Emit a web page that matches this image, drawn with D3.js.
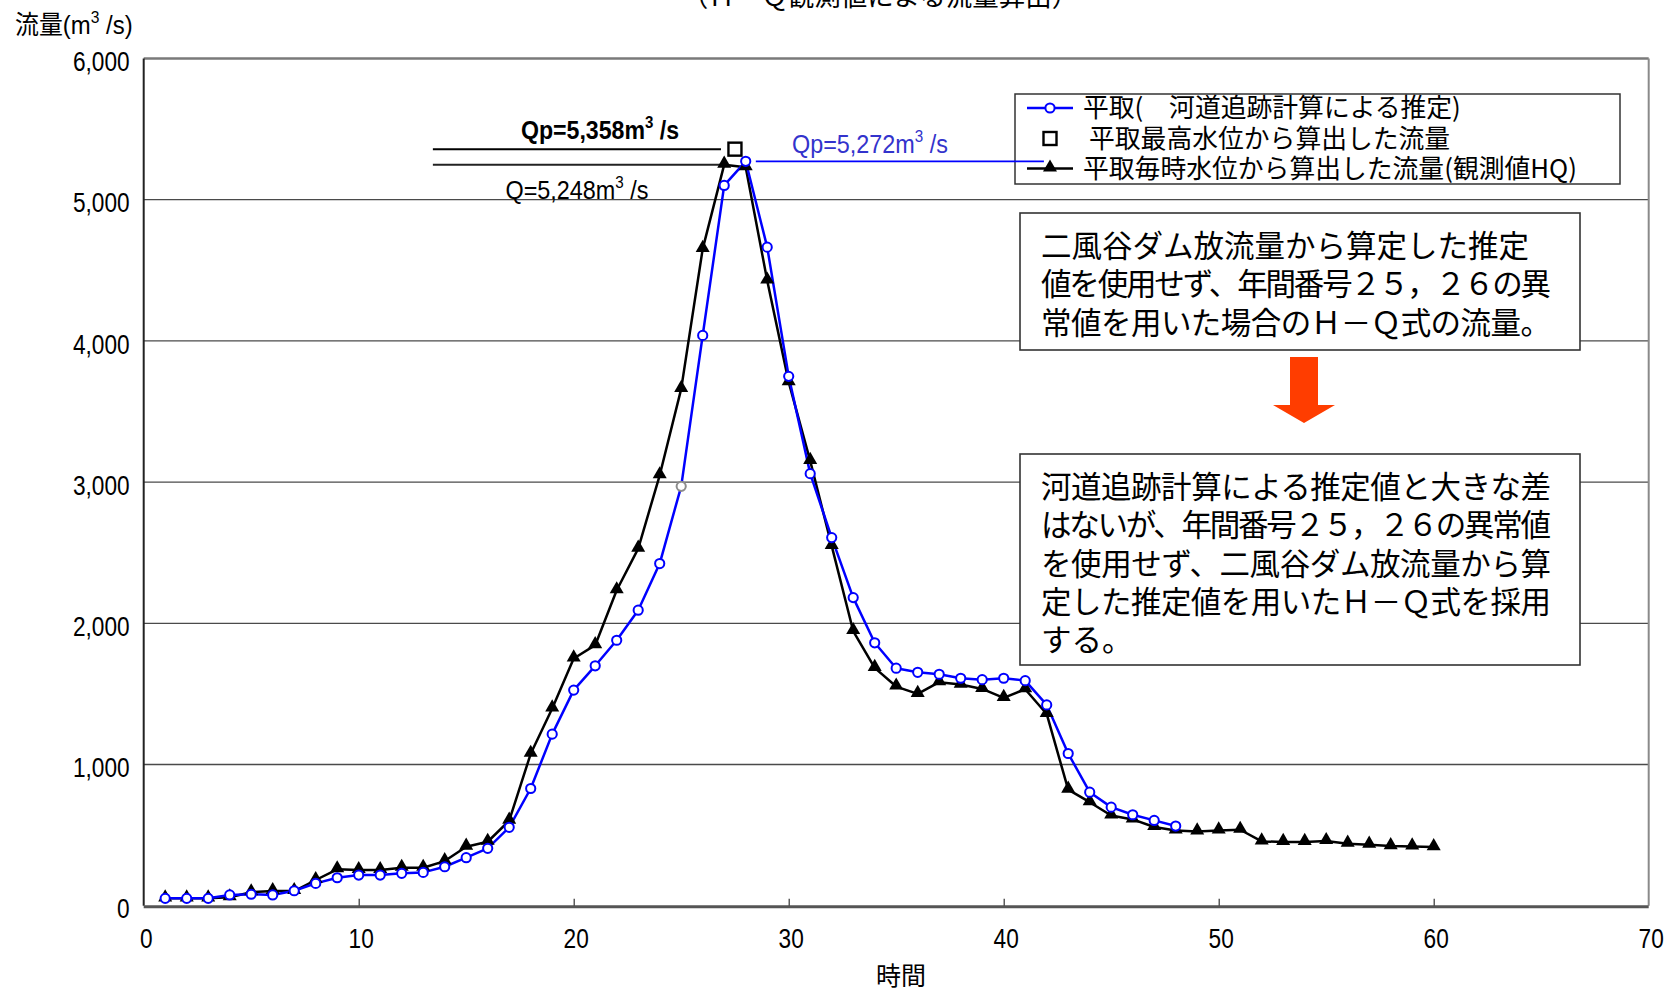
<!DOCTYPE html>
<html>
<head>
<meta charset="utf-8">
<script src="https://cdn.jsdelivr.net/npm/d3@7"></script>
<style>
  body { margin: 0; background: #fff; }
  svg { display: block; }
  .num { font-family: "Liberation Sans", Arial, sans-serif; }
  .jp { font-family: "Noto Sans CJK JP", sans-serif; }
</style>
</head>
<body>
<svg id="chart" width="1674" height="991"></svg>
<script>
// Hourly discharge at 平取 (m3/s)
const hours = d3.range(1, 61);
const routedFlow = [
  52, 52, 52, 76, 81, 76, 106, 158, 198, 217,
  217, 229, 236, 276, 340, 406, 555, 830, 1215, 1527,
  1699, 1880, 2093, 2423, 2970, 4039, 5101, 5272, 4664, 3749,
  3060, 2607, 2182, 1862, 1682, 1653, 1639, 1611, 1601, 1611,
  1594, 1422, 1078, 804, 698, 644, 604, 564
];
const observedFlow = [
  52, 52, 52, 60, 95, 104, 104, 182, 258, 253,
  253, 269, 269, 316, 418, 453, 602, 1076, 1397, 1751,
  1845, 2234, 2529, 3048, 3660, 4652, 5248, 5230, 4428, 3708,
  3150, 2548, 1945, 1684, 1552, 1500, 1583, 1566, 1535, 1472,
  1533, 1358, 822, 733, 639, 611, 557, 533, 526, 533,
  538, 455, 452, 452, 458, 439, 432, 422, 420, 415
];
const dimmedHours = [25];
const peakStageHour = 27.5;
const peakStageFlow = 5358;
const routedPeak = 5272;
const observedPeak = 5248;
const xTicks = [0, 10, 20, 30, 40, 50, 60, 70];
const yTicks = [0, 1000, 2000, 3000, 4000, 5000, 6000];

const titleText = "（Ｈ・Ｑ観測値による流量算出）";
const yTitle = "流量(m";
const xTitle = "時間";
const legendLabels = [
  "平取(　河道追跡計算による推定)",
  "平取最高水位から算出した流量",
  "平取毎時水位から算出した流量(観測値HQ)"
];
const noteLines1 = [
  "二風谷ダム放流量から算定した推定",
  "値を使用せず、年間番号２５，２６の異",
  "常値を用いた場合のＨ－Ｑ式の流量。"
];
const noteLines2 = [
  "河道追跡計算による推定値と大きな差",
  "はないが、年間番号２５，２６の異常値",
  "を使用せず、二風谷ダム放流量から算",
  "定した推定値を用いたＨ－Ｑ式を採用",
  "する。"
];

const BLUE = "#0000ff";
const svg = d3.select("#chart");

const x = d3.scaleLinear().domain([0, 70]).range([143.7, 1648.7]);
const y = d3.scaleLinear().domain([0, 6000]).range([905.7, 58.5]);

// narrow the Latin lettering horizontally about its anchor point
function condense(sel, k) {
  sel.each(function () {
    const t = d3.select(this);
    const ax = +t.attr("x") || 0, ay = +t.attr("y") || 0;
    t.attr("transform", `translate(${ax},${ay}) scale(${k},1) translate(${-ax},${-ay})`);
  });
}

// title (runs off the top edge)
svg.append("text").attr("class", "jp")
  .attr("x", 880).attr("y", 6).attr("text-anchor", "middle")
  .attr("font-size", 26.5).attr("fill", "#000").text(titleText);

// horizontal gridlines
svg.append("g").selectAll("line")
  .data(yTicks.filter(v => v > 0 && v < 6000))
  .join("line")
  .attr("x1", x(0)).attr("x2", x(70))
  .attr("y1", d => y(d)).attr("y2", d => y(d))
  .attr("stroke", "#4a4a4a").attr("stroke-width", 1.3);

// plot frame
svg.append("line").attr("x1", x(0)).attr("x2", x(70))
  .attr("y1", y(6000)).attr("y2", y(6000))
  .attr("stroke", "#7a7a7a").attr("stroke-width", 2.5);
svg.append("line").attr("x1", x(70)).attr("x2", x(70))
  .attr("y1", y(6000)).attr("y2", y(0))
  .attr("stroke", "#8a8a8a").attr("stroke-width", 2);
svg.append("line").attr("x1", x(0)).attr("x2", x(0))
  .attr("y1", y(6000)).attr("y2", y(0))
  .attr("stroke", "#222").attr("stroke-width", 2);
svg.append("line").attr("x1", x(0)).attr("x2", x(70))
  .attr("y1", y(0) + 1).attr("y2", y(0) + 1)
  .attr("stroke", "#555").attr("stroke-width", 3);

// inner ticks on the time axis
svg.append("g").attr("transform", `translate(0,${y(0)})`)
  .call(d3.axisBottom(x).tickValues(xTicks.slice(1, -1)).tickSize(-7).tickFormat(""))
  .call(g => g.select(".domain").remove())
  .call(g => g.selectAll("line").attr("stroke", "#333").attr("stroke-width", 1.2));

// axis labels
const yAxis = svg.append("g").attr("class", "num")
  .attr("transform", `translate(${x(0)},0)`)
  .call(d3.axisLeft(y).tickValues(yTicks).tickSize(0).tickPadding(14).tickFormat(d3.format(",")));
yAxis.select(".domain").remove();
yAxis.selectAll("text").attr("font-size", 27).attr("fill", "#000")
  .attr("font-family", null).attr("dy", "0.45em").call(condense, 0.84);

const xAxis = svg.append("g").attr("class", "num")
  .attr("transform", `translate(0,${y(0)})`)
  .call(d3.axisBottom(x).tickValues(xTicks).tickSize(0).tickPadding(23).tickFormat(d3.format("d")));
xAxis.select(".domain").remove();
xAxis.selectAll("text").attr("font-size", 27).attr("fill", "#000")
  .attr("font-family", null).attr("x", 2).call(condense, 0.84);

svg.append("text").attr("class", "jp").attr("x", 901).attr("y", 985)
  .attr("text-anchor", "middle").attr("font-size", 25).text(xTitle);

const yt = svg.append("text").attr("x", 15).attr("y", 34).attr("font-size", 26)
  .attr("font-family", "'Liberation Sans','Noto Sans CJK JP',sans-serif");
yt.append("tspan").text(yTitle);
yt.append("tspan").attr("dy", -11).attr("font-size", 17).text("3");
yt.append("tspan").attr("dy", 11).text(" /s)");
yt.call(condense, 0.92);

// peak reference lines
const refStart = 13.45;
svg.append("line").attr("x1", x(refStart)).attr("x2", x(26.85))
  .attr("y1", y(peakStageFlow)).attr("y2", y(peakStageFlow))
  .attr("stroke", "#000").attr("stroke-width", 2);
svg.append("line").attr("x1", x(refStart)).attr("x2", x(26.85))
  .attr("y1", y(observedPeak)).attr("y2", y(observedPeak))
  .attr("stroke", "#222").attr("stroke-width", 2);

// series lines
const line = d3.line().x(d => x(d[0])).y(d => y(d[1]));
const routedPts = routedFlow.map((v, i) => [hours[i], v]);
const observedPts = observedFlow.map((v, i) => [hours[i], v]);

svg.append("path").datum(observedPts).attr("d", line)
  .attr("fill", "none").attr("stroke", "#000").attr("stroke-width", 2.5)
  .attr("stroke-linejoin", "round");
svg.append("path").datum(routedPts).attr("d", line)
  .attr("fill", "none").attr("stroke", BLUE).attr("stroke-width", 2.5)
  .attr("stroke-linejoin", "round");

const tri = d3.symbol().type(d3.symbolTriangle).size(85);
svg.append("g").selectAll("path").data(observedPts).join("path")
  .attr("d", tri).attr("transform", d => `translate(${x(d[0])},${y(d[1]) - 1})`)
  .attr("fill", "#000");

svg.append("g").selectAll("circle").data(routedPts).join("circle")
  .attr("cx", d => x(d[0])).attr("cy", d => y(d[1])).attr("r", 4.6)
  .attr("fill", "#fff")
  .attr("stroke", d => dimmedHours.includes(d[0]) ? "#8c8c8c" : BLUE)
  .attr("stroke-width", 2);

// peak from the highest stage
svg.append("rect")
  .attr("x", x(peakStageHour) - 6.5).attr("y", y(peakStageFlow) - 6.5)
  .attr("width", 13).attr("height", 13)
  .attr("fill", "#fff").attr("stroke", "#000").attr("stroke-width", 2.4);

// peak labels
function supLabel(xp, yp, pre, opts) {
  const t = svg.append("text").attr("x", xp).attr("y", yp)
    .attr("class", "num").attr("font-size", opts.size)
    .attr("font-weight", opts.weight || "normal")
    .attr("fill", opts.color || "#000").attr("text-anchor", "middle");
  t.append("tspan").text(pre);
  t.append("tspan").attr("dy", -11).attr("font-size", opts.size * 0.65).text("3");
  t.append("tspan").attr("dy", 11).text(" /s");
  t.call(condense, opts.k);
}
supLabel(600, 139, "Qp=" + d3.format(",")(peakStageFlow) + "m", { size: 26, weight: "bold", k: 0.89 });
supLabel(577, 199, "Q=" + d3.format(",")(observedPeak) + "m", { size: 26, k: 0.9 });

// legend
const lg = svg.append("g");
lg.append("rect").attr("x", 1015).attr("y", 94).attr("width", 605).attr("height", 90)
  .attr("fill", "#fff").attr("stroke", "#333").attr("stroke-width", 1.5);
const rowY = [108, 138.5, 168.5];
lg.append("line").attr("x1", 1027).attr("x2", 1073).attr("y1", rowY[0]).attr("y2", rowY[0])
  .attr("stroke", BLUE).attr("stroke-width", 2.5);
lg.append("circle").attr("cx", 1050).attr("cy", rowY[0]).attr("r", 4.6)
  .attr("fill", "#fff").attr("stroke", BLUE).attr("stroke-width", 2);
lg.append("rect").attr("x", 1050 - 6.5).attr("y", rowY[1] - 6.5).attr("width", 13).attr("height", 13)
  .attr("fill", "#fff").attr("stroke", "#000").attr("stroke-width", 2.4);
lg.append("line").attr("x1", 1027).attr("x2", 1073).attr("y1", rowY[2]).attr("y2", rowY[2])
  .attr("stroke", "#000").attr("stroke-width", 2.5);
lg.append("path").attr("d", tri).attr("transform", `translate(1050,${rowY[2] - 1})`).attr("fill", "#000");
lg.selectAll("text.lbl").data(legendLabels).join("text").attr("class", "lbl jp")
  .attr("x", (d, i) => i === 1 ? 1089 : 1083).attr("y", (d, i) => rowY[i] + 9)
  .attr("font-size", 25.8).attr("fill", "#000").text(d => d);

// routed peak reference line and label
svg.append("line").attr("x1", x(28.47)).attr("x2", x(41.87))
  .attr("y1", y(routedPeak)).attr("y2", y(routedPeak))
  .attr("stroke", BLUE).attr("stroke-width", 1.8);
supLabel(870, 153, "Qp=" + d3.format(",")(routedPeak) + "m", { size: 26, color: "#3333cc", k: 0.9 });

// note boxes; long lines are tightened to stay inside the frame
const noteMaxWidth = 510;
function noteBox(bx, by, bw, bh, lines) {
  const g = svg.append("g");
  g.append("rect").attr("x", bx).attr("y", by).attr("width", bw).attr("height", bh)
    .attr("fill", "#fff").attr("stroke", "#333").attr("stroke-width", 1.6);
  g.selectAll("text").data(lines).join("text").attr("class", "jp")
    .attr("x", bx + 21).attr("y", (d, i) => by + 44 + i * 38.3)
    .attr("font-size", 30.5).attr("fill", "#000").text(d => d)
    .each(function () {
      const w = this.getComputedTextLength();
      if (w > noteMaxWidth) {
        d3.select(this).attr("textLength", noteMaxWidth).attr("lengthAdjust", "spacing");
      }
    });
}
noteBox(1020, 213, 560, 137, noteLines1);
noteBox(1020, 454, 560, 211, noteLines2);

// arrow between the notes
svg.append("path")
  .attr("d", "M1290,357 L1318,357 L1318,405 L1335,405 L1304,423 L1273,405 L1290,405 Z")
  .attr("fill", "#ff3d00");
</script>
</body>
</html>
